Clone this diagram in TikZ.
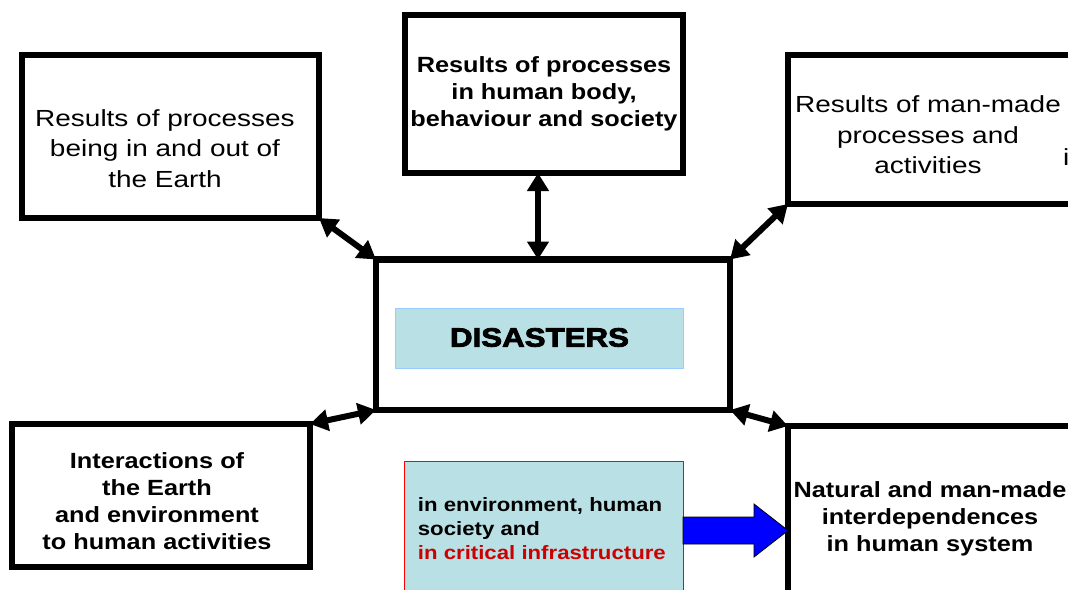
\documentclass[tikz,border=0pt]{standalone}
\usepackage{fontspec}
\newfontfamily\plainfont{Liberation Sans}[FakeStretch=1.2]
\newfontfamily\heavyfont{Liberation Sans Bold}[FakeStretch=1.15]
\newfontfamily\blackfont{Liberation Sans Bold}[FakeStretch=1.18,FakeBold=3]
\usetikzlibrary{arrows.meta,calc}
\definecolor{paleblue}{RGB}{185,224,228}
\definecolor{edgeblue}{RGB}{153,204,255}
\definecolor{darkred}{RGB}{204,0,0}
\tikzset{
  box/.style={draw, line width=6.5pt, rectangle, outer sep=0pt, inner sep=0pt},
  plain/.style={font=\plainfont\fontsize{23.3}{30.6}\selectfont, align=center, inner sep=0pt},
  heavy/.style={font=\heavyfont\fontsize{22}{27.3}\selectfont, align=center, inner sep=0pt},
  link/.style={line width=6pt, {Triangle[length=18pt,width=21pt]}-{Triangle[length=18pt,width=21pt]}}
}
\begin{document}
\begin{tikzpicture}[x=1pt,y=-1pt]
      \useasboundingbox (0,0) rectangle (1068,589);
      \clip (0,0) rectangle (1068,589);
      % frames
      \draw
        (170.5,136.5) node[box, minimum width=297pt, minimum height=163pt] (A){}
        (544,94) node[box, minimum width=278pt, minimum height=158pt] (B){}
        (936.5,129.5) node[box, minimum width=297pt, minimum height=149pt] (C){}
        (553,334.75) node[box, minimum width=354pt, minimum height=150.5pt] (D){}
        (161,495.5) node[box, minimum width=298pt, minimum height=143pt] (E){}
        (936.5,513) node[box, minimum width=297pt, minimum height=174pt] (F){}
        (543.5,530.5) node[draw=red, fill=paleblue, line width=1pt, minimum width=279pt, minimum height=139pt, outer sep=0pt] (G){}
        (539,338) node[draw=edgeblue, fill=paleblue, line width=1pt, minimum width=288pt, minimum height=60pt] (dis){};
      % texts
      \draw
        (165,148.5) node[plain] (Atext){Results of processes\\being in and out of\\the Earth}
        (544,94) node[heavy] (Btext){Results of processes\\in human body,\\behaviour and society}
        (928,135) node[plain] (Ctext){Results of man-made\\processes and\\activities}
        (1063,165) node[plain, anchor=base west] (Cmore){i}
        (539.5,337.5) node[font=\blackfont\fontsize{26.5}{30}\selectfont, inner sep=0pt] (distext){DISASTERS}
        (157,501.5) node[heavy, font=\heavyfont\fontsize{22}{27}\selectfont] (Etext){Interactions of\\the Earth\\and environment\\to human activities}
        (930,519) node[heavy] (Ftext){Natural and man-made\\interdependences\\in human system}
        (417.7,529) node[heavy, anchor=west, align=left, font=\heavyfont\fontsize{19.3}{24}\selectfont] (Gtext){in environment, human\\society and\\{\color{darkred}in critical infrastructure}};
      \begin{scope}[link]
        \draw (A.south east) to (D.north west);
        \draw ([xshift=-6pt]B.south) to ([xshift=-6pt]B.south |- D.north);
        \draw (C.south west) to (D.north east);
        \draw (D.south west) to (E.north east);
        \draw (D.south east) to (F.north west);
      \end{scope}
      % fat arrow into the right frame
      \coordinate (tail) at (G.east);
      \coordinate (tip) at (F.west |- G.east);
      \filldraw[fill=blue, draw=black, line width=0.8pt]
        ($(tail)+(0,-13.5)$) -- ($(tip)+(-34,-13.5)$) -- ($(tip)+(-34,-26.5)$) -- (tip)
        -- ($(tip)+(-34,26.5)$) -- ($(tip)+(-34,13.5)$) -- ($(tail)+(0,13.5)$) -- cycle;
    \end{tikzpicture}
\end{document}
